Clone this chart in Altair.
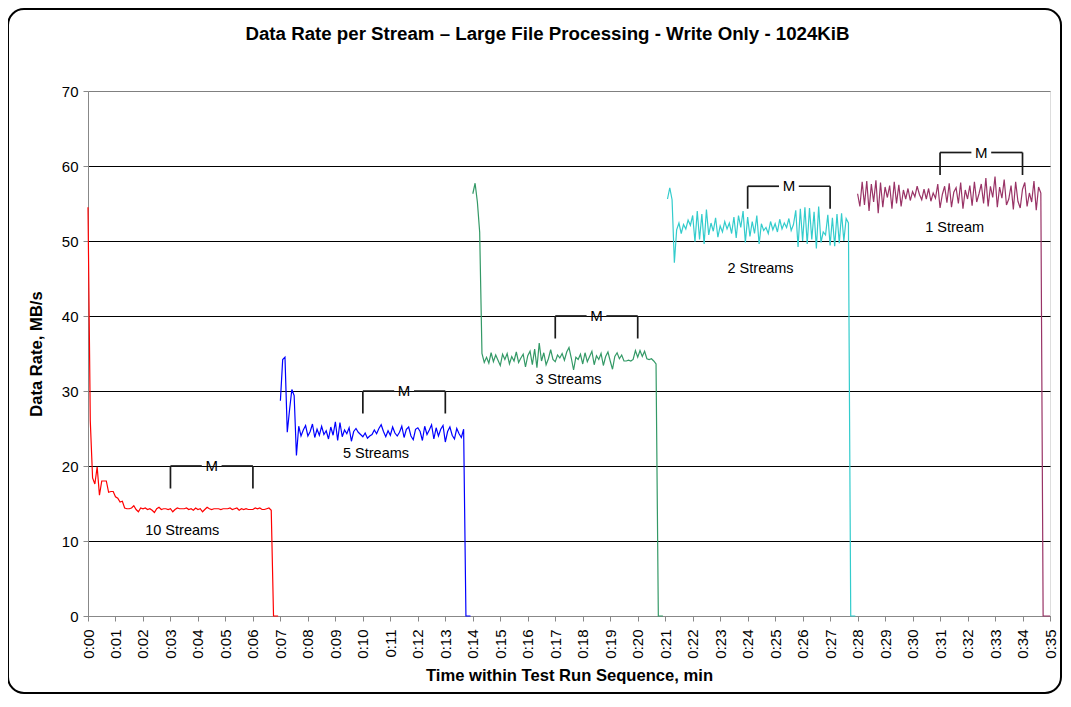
import json
import altair as alt
import pandas as pd

STEP_S = 5  # sampling interval, seconds

series_names = ["10 Streams", "5 Streams", "3 Streams", "2 Streams", "1 Stream"]
series_colors = ["#FF0000", "#0000FF", "#339966", "#33CCCC", "#993366"]
series_start_s = [0, 420, 840, 1265, 1680]

red_vals = [
    54.5, 26.0, 18.4, 17.6, 19.9, 16.1, 18.0, 18.0, 18.0, 16.5,
    16.6, 16.6, 15.9, 15.7, 15.2, 15.3, 14.4, 14.3, 14.3, 14.4,
    14.7, 14.2, 13.9, 14.4, 14.3, 14.4, 14.2, 14.3, 14.1, 13.8,
    14.3, 14.5, 14.2, 14.3, 14.3, 14.2, 14.3, 13.9, 14.2, 14.4,
    14.3, 14.3, 14.3, 14.4, 14.2, 14.3, 14.1, 14.4, 14.2, 14.3,
    13.9, 14.2, 14.5, 14.3, 14.2, 14.3, 14.3, 14.3, 14.2, 14.3,
    14.3, 14.3, 14.4, 14.2, 14.3, 14.4, 14.1, 14.3, 14.2, 14.3,
    14.2, 14.2, 14.2, 14.4, 14.3, 14.4, 14.2, 14.2, 14.3, 14.4,
    14.1, 0, 0, 0,
]

blue_vals = [
    28.7, 34.2, 34.5, 24.5, 27.5, 30.2, 29.4, 21.4, 25.3, 24.0,
    24.8, 25.4, 24.0, 24.6, 25.6, 23.8, 24.9, 24.1, 25.3, 24.2,
    24.7, 23.6, 25.2, 24.1, 25.9, 23.4, 25.8, 23.9, 24.8, 24.3,
    25.1, 23.3, 24.6, 25.0, 24.5, 24.2, 23.9, 24.4, 23.7, 24.0,
    24.2, 24.8, 24.3, 25.0, 25.5, 24.6, 23.9, 24.7, 24.1, 25.2,
    24.4, 24.0, 24.5, 25.3, 23.8, 24.9, 25.2, 24.0, 23.5, 24.9,
    25.1, 24.6, 23.4, 25.3, 24.2, 24.8, 25.5, 23.6, 25.1, 24.0,
    24.9, 25.4, 23.2, 24.6, 25.2, 24.1, 23.6, 25.0, 24.3, 23.8,
    24.9, 0, 0, 0,
]

green_vals = [
    56.3, 57.7, 55.2, 51.2, 35.0, 33.8, 34.5, 33.7, 35.1, 33.9,
    34.8, 34.1, 33.4, 34.9, 34.2, 35.0, 33.6, 34.6, 34.0, 35.2,
    33.8, 34.4, 34.9, 33.2, 34.7, 35.3, 33.5, 35.6, 33.1, 36.4,
    34.0, 35.1, 33.5, 34.3, 35.5, 34.2, 33.9, 34.8, 34.4, 35.0,
    34.1, 35.2, 35.8, 34.4, 32.8, 34.5, 34.2, 34.9, 33.6, 35.1,
    33.9, 34.6, 35.3, 33.5, 34.7, 34.2, 35.0, 33.4, 34.6, 35.2,
    34.0, 32.9, 34.6, 35.1, 34.3, 34.8, 34.0, 34.0, 34.1, 34.0,
    34.2, 35.4, 34.5, 35.4, 34.6, 35.3, 34.3, 34.2, 34.3, 34.0,
    33.6, 0, 0, 0,
]

cyan_vals = [
    55.6, 57.1, 55.5, 47.1, 51.5, 52.4,
    51.0, 52.2, 51.6, 52.8, 52.1, 53.4, 49.9, 54.0, 50.2, 53.6,
    49.6, 54.2, 50.8, 52.4, 51.3, 53.1, 50.5, 52.0, 51.2, 52.6,
    51.6, 52.4, 51.0, 53.2, 50.4, 53.4, 51.8, 54.0, 49.8, 53.2,
    50.6, 52.6, 51.0, 53.4, 49.6, 52.3, 51.4, 51.8, 51.0, 52.6,
    51.5, 52.3, 51.2, 52.9, 51.6, 52.4, 51.8, 53.0, 51.4, 52.2,
    54.1, 49.2, 54.3, 50.0, 54.5, 49.6, 54.4, 50.2, 53.9, 49.0,
    54.6, 49.8, 51.2, 50.8, 53.5, 49.4, 53.1, 49.3, 53.6, 49.7,
    53.7, 50.0, 53.0,
    52.4, 0, 0, 0,
]

plum_vals = [
    56.3, 54.6, 57.9, 54.8, 58.0, 54.0, 57.6, 55.2, 58.1, 53.7,
    57.8, 54.5, 57.2, 55.8, 57.4, 54.3, 57.9, 55.0, 57.5, 54.6,
    56.8, 55.6, 57.0, 55.4, 56.6, 55.9, 57.3, 56.2, 55.5, 56.9,
    55.6, 57.0, 55.3, 56.4, 55.7, 57.6, 54.4, 56.2, 57.3, 55.1,
    57.7, 54.5, 56.5, 57.1, 55.0, 57.8, 54.3, 56.8, 55.6, 57.4,
    54.7, 57.9, 55.2, 56.3, 57.6, 55.0, 58.4, 54.6, 57.3, 55.8,
    58.6, 54.5, 57.2, 55.7, 58.2, 54.8, 55.6, 57.4, 54.2, 57.9,
    55.3, 54.4, 56.9, 57.8, 54.6, 56.4, 55.2, 58.0, 54.1, 57.2,
    56.4, 0, 0, 0, 0,
]

series_values = [red_vals, blue_vals, green_vals, cyan_vals, plum_vals]

# "M" measurement-window brackets (minutes / MB/s)
bracket_start = [3, 10, 17, 24, 31]
bracket_end = [6, 13, 20, 27, 34]
bracket_top = [20.0, 30.0, 40.0, 57.3, 61.8]
bracket_leg = 3.0
bracket_gap = 0.36

# series labels (minutes / MB/s)
label_x = [3.43, 10.48, 17.48, 24.47, 31.53]
label_y = [11.3, 21.6, 31.5, 46.3, 51.7]

x_tick_values = list(range(36))
x_tick_labels = ["0:%02d" % m for m in x_tick_values]
y_tick_values = [0, 10, 20, 30, 40, 50, 60, 70]

chart_title = "Data Rate per Stream – Large File Processing - Write Only - 1024KiB"
FONT = "Liberation Sans"

rows = []
for name, start, vals in zip(series_names, series_start_s, series_values):
    for i, v in enumerate(vals):
        rows.append({"series": name, "t": (start + STEP_S * i) / 60.0, "v": v})
df = pd.DataFrame(rows)

seg = []
for s, e, top in zip(bracket_start, bracket_end, bracket_top):
    mid = (s + e) / 2.0
    seg.append({"t": s, "t2": mid - bracket_gap, "v": top, "v2": top})
    seg.append({"t": mid + bracket_gap, "t2": e, "v": top, "v2": top})
    seg.append({"t": s, "t2": s, "v": top, "v2": top - bracket_leg})
    seg.append({"t": e, "t2": e, "v": top, "v2": top - bracket_leg})
seg_df = pd.DataFrame(seg)
m_df = pd.DataFrame({"t": [(s + e) / 2.0 for s, e in zip(bracket_start, bracket_end)],
                     "v": bracket_top, "txt": ["M"] * len(bracket_top)})
lab_df = pd.DataFrame({"t": label_x, "v": label_y, "txt": series_names})

label_expr = json.dumps(x_tick_labels) + "[round(datum.value)]"

x_scale = alt.Scale(domain=[0, 35], nice=False, zero=False)
y_scale = alt.Scale(domain=[0, 70], nice=False)

x_axis = alt.Axis(
    values=x_tick_values, tickCount=len(x_tick_values), labelExpr=label_expr,
    labelAngle=270, labelFontSize=15,
    labelPadding=8, tickSize=5, grid=False, labelOverlap=False, labelBound=False,
    labelFlush=False,
    title="Time within Test Run Sequence, min", titleFontSize=16.6,
    titleFontWeight="bold", titlePadding=9,
)
y_axis = alt.Axis(
    values=y_tick_values, tickCount=len(y_tick_values), labelFontSize=15,
    labelPadding=5, tickSize=5,
    grid=True, gridColor={"expr": "datum.value == 70 ? '#808080' : '#000000'"},
    gridWidth=1, title="Data Rate, MB/s", titleFontSize=16.6,
    titleFontWeight="bold", titlePadding=17,
)

frame = alt.Chart(pd.DataFrame({"k": [0]})).mark_rect(
    fill="transparent", stroke="#000000", strokeWidth=2, cornerRadius=16
).encode(x=alt.value(-80), x2=alt.value(973), y=alt.value(-82), y2=alt.value(602))

title_mark = alt.Chart(pd.DataFrame({"txt": [chart_title]})).mark_text(
    fontSize=18.7, fontWeight="bold", font=FONT, color="#000000",
    align="center", baseline="alphabetic",
).encode(x=alt.value(459.5), y=alt.value(-51), text="txt:N")

lines = alt.Chart(df).mark_line(strokeWidth=1.2).encode(
    x=alt.X("t:Q", scale=x_scale, axis=x_axis),
    y=alt.Y("v:Q", scale=y_scale, axis=y_axis),
    color=alt.Color("series:N", scale=alt.Scale(domain=series_names, range=series_colors),
                    legend=None),
)

brackets = alt.Chart(seg_df).mark_rule(color="#1a1a1a", strokeWidth=1.7).encode(
    x="t:Q", x2="t2:Q", y="v:Q", y2="v2:Q",
)

m_text = alt.Chart(m_df).mark_text(fontSize=15, font=FONT, color="#000000",
                                   baseline="middle", align="center").encode(
    x="t:Q", y="v:Q", text="txt:N",
)

s_text = alt.Chart(lab_df).mark_text(fontSize=14.5, font=FONT, color="#000000",
                                     baseline="middle", align="center").encode(
    x="t:Q", y="v:Q", text="txt:N",
)

chart = alt.layer(lines, brackets, m_text, s_text, frame, title_mark).properties(
    width=962, height=525,
    autosize=alt.AutoSizeParams(type="none"),
    padding={"left": 80, "top": 83, "right": 13, "bottom": 78},
).configure_axis(
    labelFont=FONT, titleFont=FONT, labelColor="#000000", titleColor="#000000",
    tickColor="#000000", domainColor="#000000", tickWidth=1, domainWidth=1,
).configure_view(
    stroke="#808080", strokeWidth=1
).configure(background="white")

chart.save("out.html", embed_options={"renderer": "svg", "actions": False})
